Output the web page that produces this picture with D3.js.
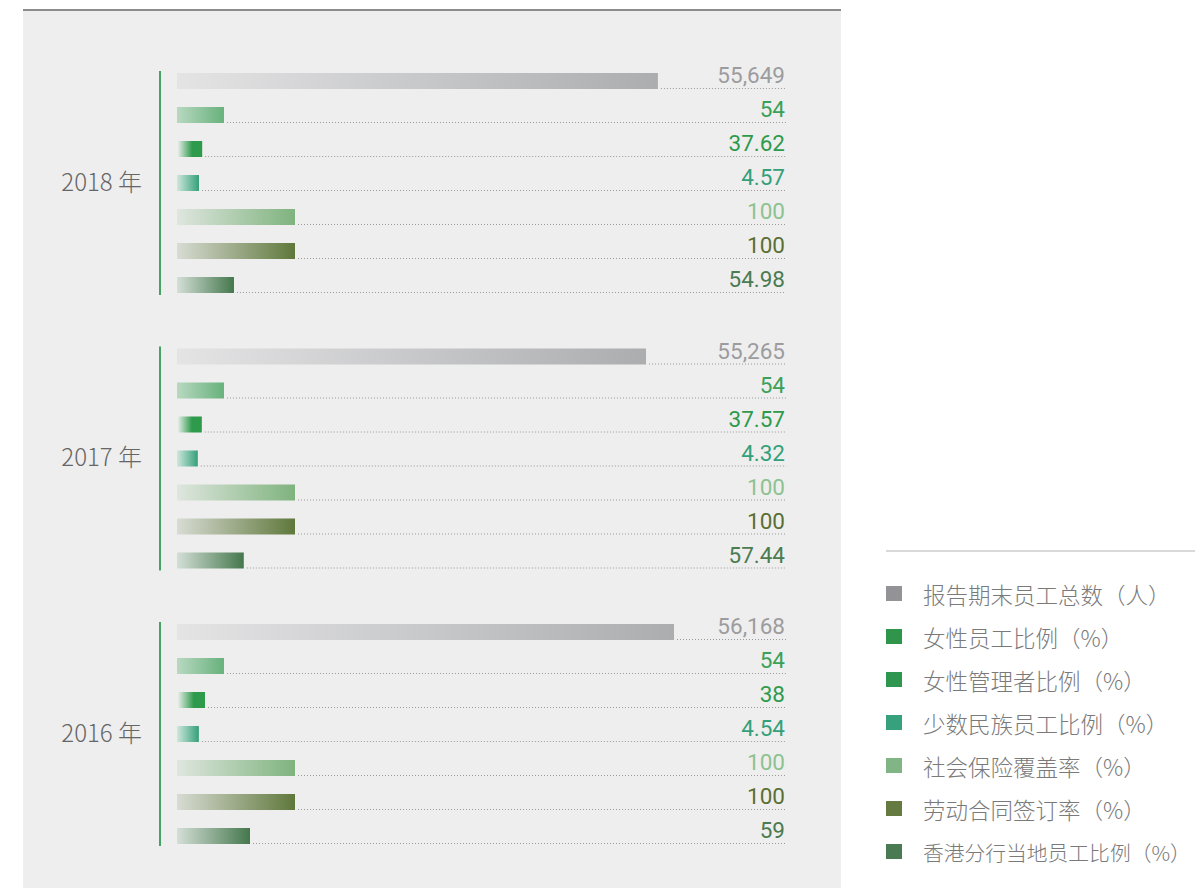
<!DOCTYPE html>
<html>
<head>
<meta charset="utf-8">
<script src="https://cdn.jsdelivr.net/npm/d3@7"></script>
<style>
  body { margin: 0; background: #fff; }
  svg { display: block; }
</style>
</head>
<body>
<div id="chart"></div>
<script>
// data
const years = ["2018 年", "2017 年", "2016 年"];
const metrics = ["报告期末员工总数（人）", "女性员工比例（%）", "女性管理者比例（%）", "少数民族员工比例（%）",
                 "社会保险覆盖率（%）", "劳动合同签订率（%）", "香港分行当地员工比例（%）"];
const employees = [55649, 55265, 56168];
const femaleStaff = [54, 54, 54];
const femaleManagers = [37.62, 37.57, 38];
const minorityStaff = [4.57, 4.32, 4.54];
const socialInsurance = [100, 100, 100];
const laborContracts = [100, 100, 100];
const hkLocalStaff = [54.98, 57.44, 59];

const series = [employees, femaleStaff, femaleManagers, minorityStaff, socialInsurance, laborContracts, hkLocalStaff];

const width = 1195, height = 888;
const barX = 177, valueX = 786, barH = 16;

// bars are not drawn from zero in the original, each metric has its own scale
const barScales = [
    d3.scaleLinear().domain([40130, 56168]).range([0, 497]),
    d3.scaleLinear().domain([0, 100]).range([0, 87]),
    d3.scaleLinear().domain([34.2, 38]).range([0, 28]),
    d3.scaleLinear().domain([0, 4.57]).range([0, 22]),
    d3.scaleLinear().domain([0, 100]).range([0, 118]),
    d3.scaleLinear().domain([0, 100]).range([0, 118]),
    d3.scaleLinear().domain([40.7, 59]).range([0, 73])
];

const gradStops = [
    [[0, "#e4e4e5"], [1, "#acadaf"]],
    [[0, "#b8d9c1"], [1, "#68b17c"]],
    [[0, "#f2f2f2"], [0.6, "#2e9a4c"], [1, "#2e9a4c"]],
    [[0, "#cfe7dd"], [1, "#34a07a"]],
    [[0, "#dfe6df"], [1, "#7fb37e"]],
    [[0, "#d8dcd4"], [1, "#5f783b"]],
    [[0, "#d4dfd7"], [1, "#44774c"]]
];
const textColors = ["#9c9c9e", "#3aa05a", "#2e9a4c", "#34a07a", "#8dc290", "#5b6f33", "#4b7b51"];
const legendColors = ["#939397", "#2e954a", "#2f9650", "#37a07c", "#82b585", "#647a41", "#497a52"];

const fmt = (i, v) => i === 0 ? d3.format(",")(v) : String(v);

let svg = d3.select("#chart").append("svg")
    .attr("width", width).attr("height", height)
    .attr("viewBox", [0, 0, width, height]);

let defs = svg.append("defs");
gradStops.forEach((stops, i) => {
    let g = defs.append("linearGradient").attr("id", "grad" + i);
    stops.forEach(s => g.append("stop").attr("offset", s[0]).attr("stop-color", s[1]));
});

// panel
svg.append("rect").attr("x", 23).attr("y", 10).attr("width", 818).attr("height", height - 10).attr("fill", "#eeeeee");
svg.append("line").attr("x1", 23).attr("x2", 841).attr("y1", 10).attr("y2", 10)
    .attr("stroke", "#8c8c8c").attr("stroke-width", 2);

// positions
let yGroup = d3.scalePoint().domain(years).range([73, 624]);
let yRow = d3.scalePoint().domain(d3.range(metrics.length)).range([0, 204]);

let group = svg.selectAll(".year")
    .data(years)
    .join("g")
    .attr("class", "year")
    .attr("transform", d => `translate(0, ${yGroup(d)})`);

group.append("line")
    .attr("x1", 160).attr("x2", 160).attr("y1", -2).attr("y2", 222)
    .attr("stroke", "#45a262").attr("stroke-width", 2);

group.append("text")
    .attr("x", 142).attr("y", 107)
    .attr("text-anchor", "end").attr("dominant-baseline", "central")
    .attr("font-family", "'Noto Sans CJK SC', 'Noto Sans', sans-serif")
    .attr("font-weight", 300)
    .attr("font-size", 24).attr("fill", "#666")
    .text(d => d);

let row = group.selectAll(".row")
    .data((d, yi) => series.map((s, mi) => ({mi, v: s[yi]})))
    .join("g")
    .attr("class", "row")
    .attr("transform", d => `translate(0, ${yRow(d.mi)})`);

row.append("line")
    .attr("x1", d => barX + barScales[d.mi](d.v) + 3)
    .attr("x2", valueX)
    .attr("y1", 15.5).attr("y2", 15.5)
    .attr("stroke", "#999").attr("stroke-width", 1)
    .attr("stroke-dasharray", "1 2");

row.append("rect")
    .attr("x", barX).attr("y", 0)
    .attr("width", d => barScales[d.mi](d.v))
    .attr("height", barH)
    .attr("fill", d => `url(#grad${d.mi})`);

row.append("text")
    .attr("x", valueX - 1).attr("y", 10)
    .attr("text-anchor", "end")
    .attr("font-family", "Roboto, sans-serif")
    .attr("font-size", 22.5)
    .attr("fill", d => textColors[d.mi])
    .text(d => fmt(d.mi, d.v));

// legend
svg.append("line").attr("x1", 886).attr("x2", 1195).attr("y1", 551).attr("y2", 551)
    .attr("stroke", "#cccccc").attr("stroke-width", 1.5);

let yLegend = d3.scalePoint().domain(metrics).range([594, 852]);
let leg = svg.selectAll(".leg")
    .data(metrics)
    .join("g")
    .attr("class", "leg")
    .attr("transform", d => `translate(886, ${yLegend(d)})`);

leg.append("rect")
    .attr("x", 0).attr("y", -8).attr("width", 16).attr("height", 15)
    .attr("fill", (d, i) => legendColors[i]);

const legendMax = width - 923 - 4, legendSize = 22.5;
leg.append("text")
    .attr("x", 37).attr("y", 0)
    .attr("dominant-baseline", "central")
    .attr("font-family", "'Noto Sans CJK SC', sans-serif")
    .attr("font-weight", 300)
    .attr("font-size", legendSize).attr("fill", "#7a7a7a")
    .text(d => d)
    .each(function() {
        // shrink a label that would run past the right edge
        let len = this.getComputedTextLength();
        if (len > legendMax) d3.select(this).attr("font-size", legendSize * legendMax / len);
    });
</script>
</body>
</html>
